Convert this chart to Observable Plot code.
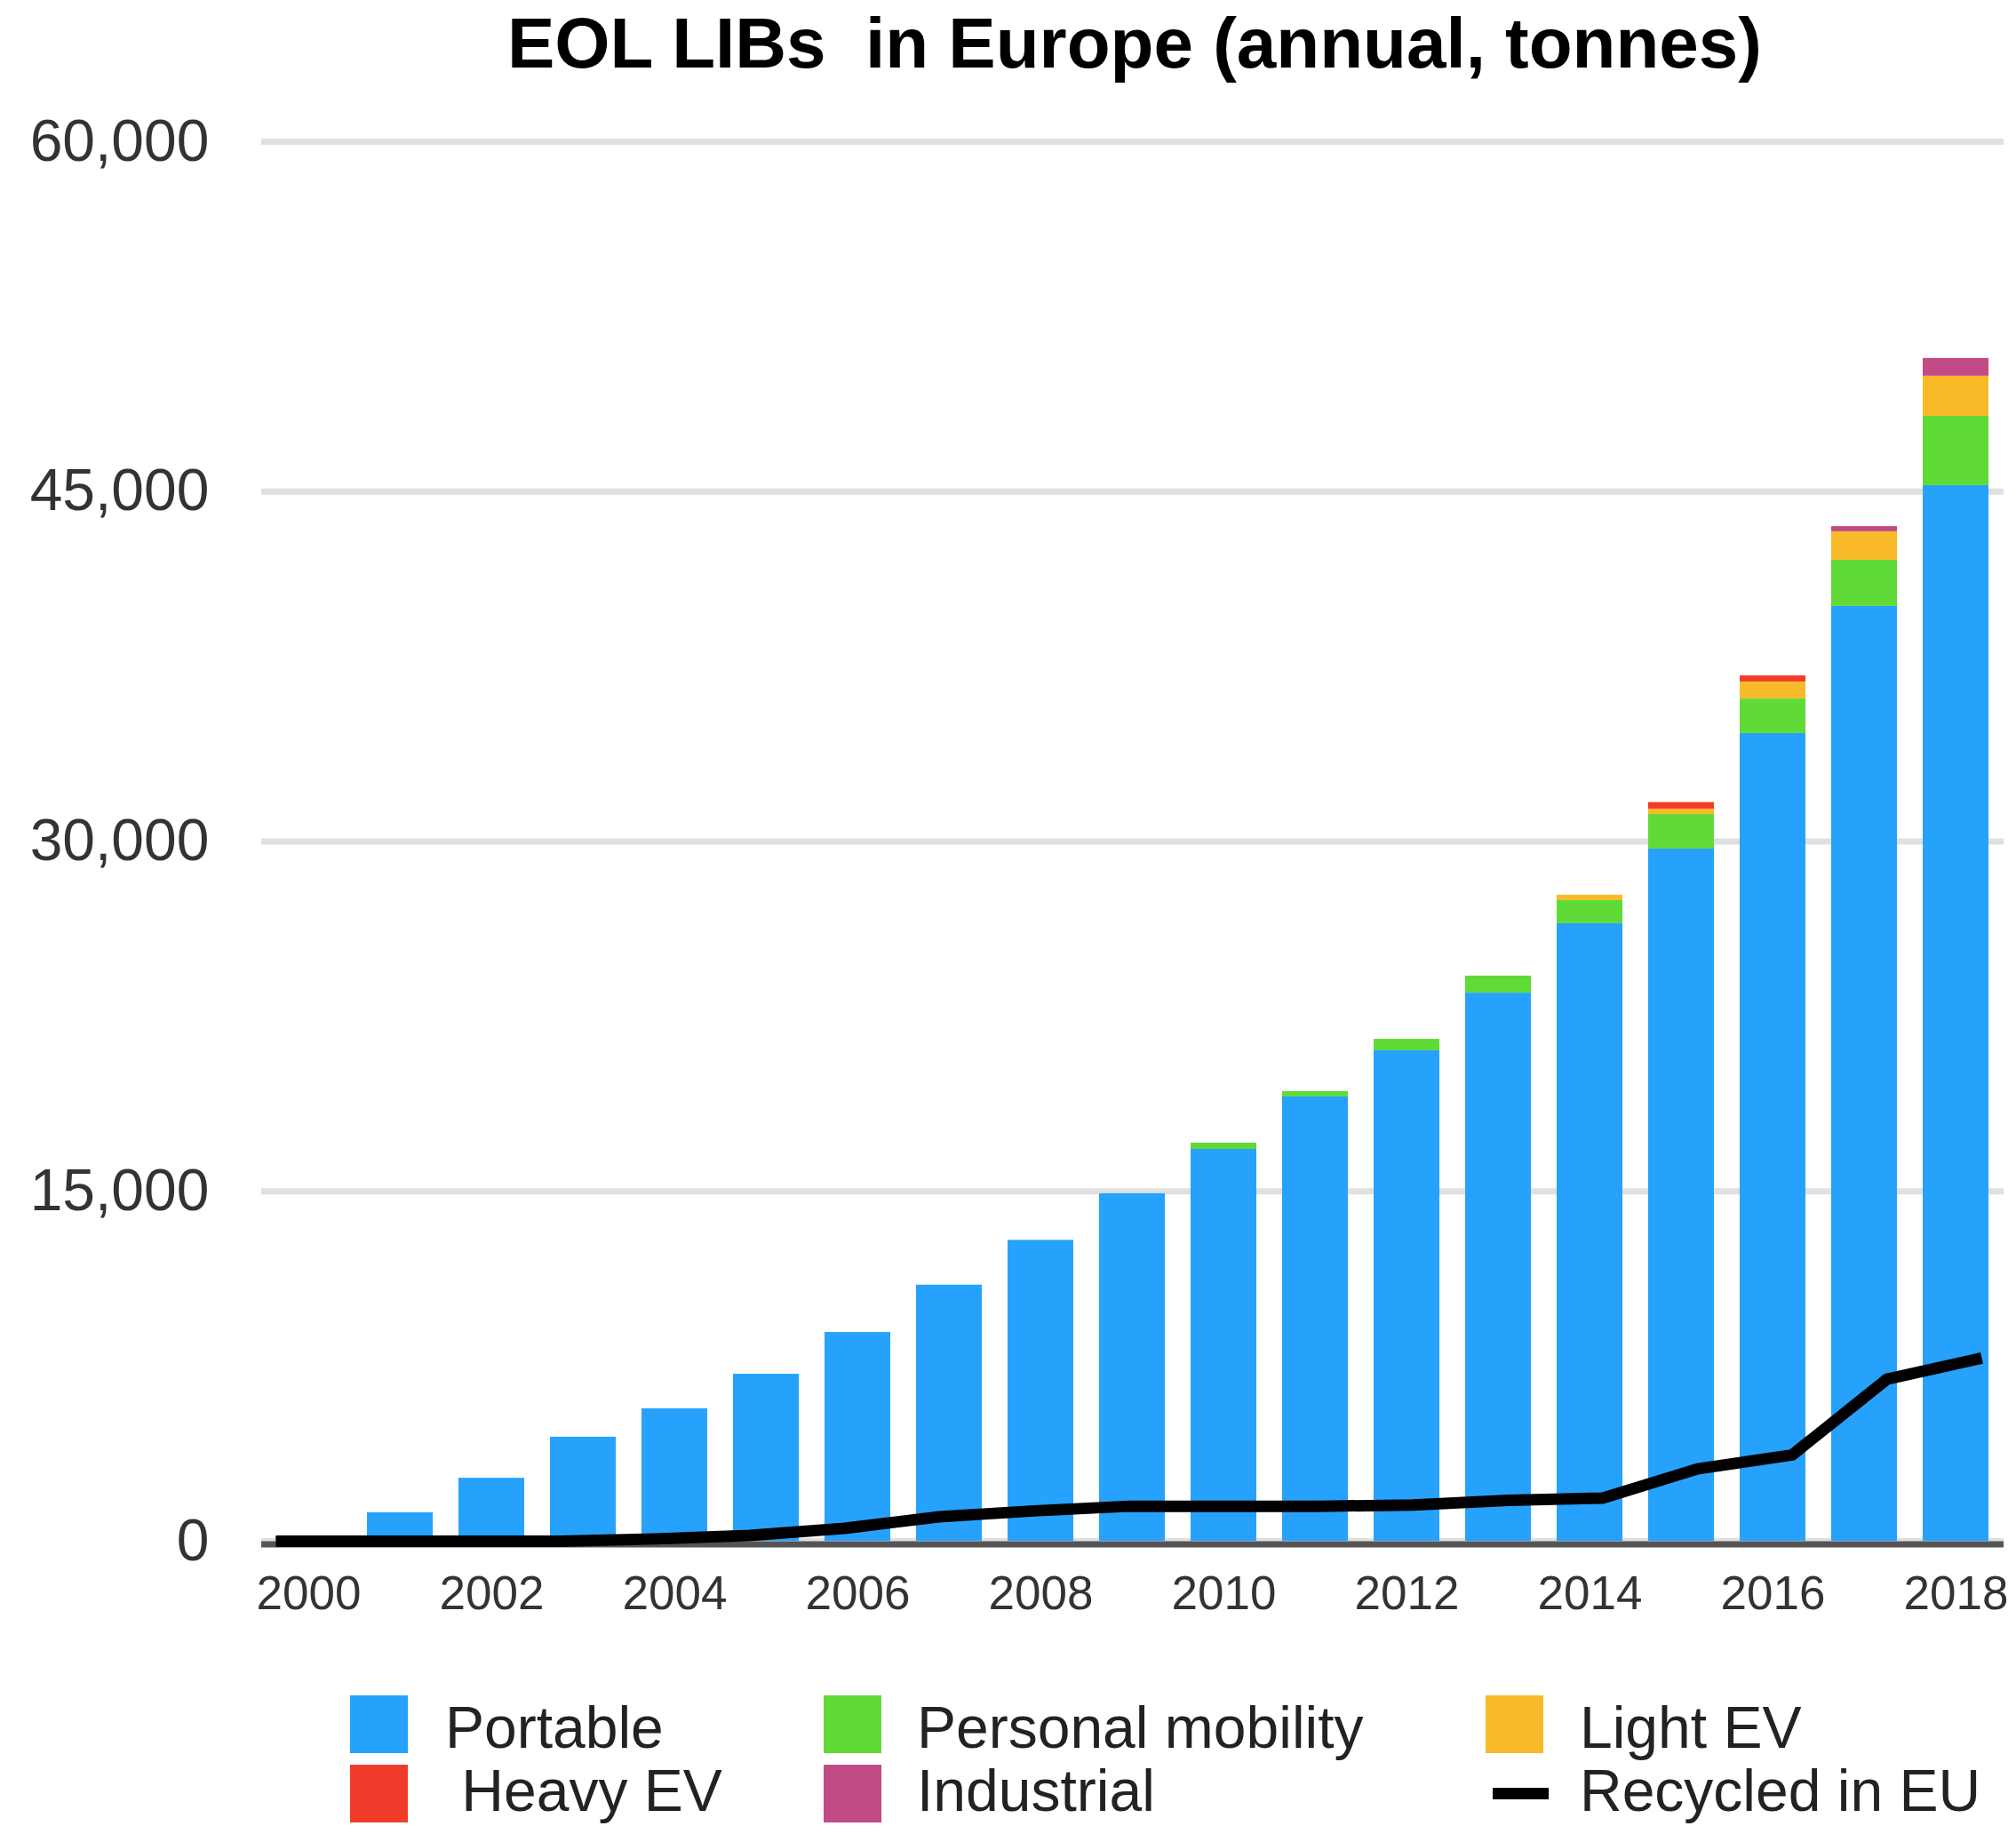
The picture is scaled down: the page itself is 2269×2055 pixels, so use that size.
<!DOCTYPE html>
<html>
<head>
<meta charset="utf-8">
<script src="https://cdn.jsdelivr.net/npm/d3@7"></script>
<script src="https://cdn.jsdelivr.net/npm/@observablehq/plot@0.6"></script>
<style>
  body { margin: 0; background: #fff; }
  #wrap { position: relative; width: 2269px; height: 2055px; overflow: hidden; background: #fff;
          font-family: "Liberation Sans", Arial, sans-serif; }
  #title { position: absolute; left: 571px; top: 9px; font-size: 80px; line-height: 80px;
           font-weight: bold; white-space: pre; color: #000; }
  .layer { position: absolute; left: 0; top: 0; }
  .lg { position: absolute; font-size: 66px; line-height: 64px; white-space: pre; color: #222; }
  .sw { position: absolute; }
</style>
</head>
<body>
<div id="wrap">
  <div id="title">EOL LIBs  in Europe (annual, tonnes)</div>
</div>
<script>
// ---------- data ----------
const years = [2000,2001,2002,2003,2004,2005,2006,2007,2008,2009,2010,2011,2012,2013,2014,2015,2016,2017,2018];
const seriesNames = ["Portable", "Personal mobility", "Light EV", "Heavy EV", "Industrial"];
const seriesColors = ["#26A2FC", "#60DA37", "#F8BA29", "#F23C2B", "#C24A85"];
const portable         = [200,1220,2700,4460,5680,7160,8950,10980,12900,14900,16800,19050,21030,23500,26480,29680,34630,40080,45260];
const personalMobility = [0,0,0,0,0,0,0,0,0,0,270,230,490,730,990,1480,1480,1980,2970];
const lightEV          = [0,0,0,0,0,0,0,0,0,0,0,0,0,0,230,230,730,1220,1720];
const heavyEV          = [0,0,0,0,0,0,0,0,0,0,0,0,0,0,0,280,260,0,0];
const industrial       = [0,0,0,0,0,0,0,0,0,0,0,0,0,0,0,0,0,220,760];
const recycledInEU     = [0,0,0,0,100,250,550,1050,1300,1500,1500,1500,1550,1750,1850,3100,3700,6950,7850];
const recycledName = "Recycled in EU";
const yTicks = [0, 15000, 30000, 45000, 60000];
const xTickYears = [2000,2002,2004,2006,2008,2010,2012,2014,2016,2018];
const legendLabels = ["Portable", "Personal mobility", "Light EV", " Heavy EV", "Industrial", "Recycled in EU"];

// ---------- build ----------
const seriesValues = [portable, personalMobility, lightEV, heavyEV, industrial];
const stacked = [];
seriesNames.forEach((s, i) => years.forEach((y, j) => stacked.push({year: y, series: s, value: seriesValues[i][j]})));
const lineData = years.map((y, i) => ({year: y, series: recycledName, value: recycledInEU[i]}));

const W = 2269, H = 1850, Y0 = 1734, YTOP = 159;
const font = "Liberation Sans, Arial, sans-serif";

const main = Plot.plot({
  width: W, height: H,
  marginLeft: 294, marginRight: 14, marginTop: YTOP, marginBottom: H - Y0,
  style: {fontFamily: font, background: "transparent"},
  x: {type: "band", domain: years, paddingInner: 0.28, paddingOuter: 0.14, align: 0.5},
  y: {domain: [0, 60000]},
  color: {domain: seriesNames, range: seriesColors},
  marks: [
    Plot.gridY({ticks: yTicks, stroke: "#e0e0e0", strokeWidth: 7, strokeOpacity: 1}),
    Plot.barY(stacked, {x: "year", y: "value", fill: "series", z: "series"}),
    Plot.ruleY([0], {stroke: "#555", strokeWidth: 7, dy: 3.5}),
    Plot.axisY({ticks: yTicks, tickFormat: d3.format(","), tickSize: 0, tickPadding: 59,
                fontSize: 66, color: "#333", label: null}),
    Plot.axisX({ticks: xTickYears, tickFormat: d => String(d), tickSize: 0, tickPadding: 39,
                fontSize: 53, color: "#333", label: null})
  ]
});
main.classList.add("layer");

const overlay = Plot.plot({
  width: W, height: H,
  marginLeft: 310, marginRight: 39, marginTop: YTOP, marginBottom: H - Y0,
  style: {fontFamily: font, background: "transparent"},
  x: {type: "linear", domain: [years[0], years[years.length - 1]], axis: null},
  y: {domain: [0, 60000], axis: null},
  marks: [
    Plot.line(lineData, {x: "year", y: "value", stroke: "#000", strokeWidth: 13,
                         strokeLinejoin: "round", strokeLinecap: "butt"})
  ]
});
overlay.classList.add("layer");

const wrap = document.getElementById("wrap");
wrap.appendChild(main);
wrap.appendChild(overlay);

// ---------- legend ----------
const swX = [394, 927, 1672], txX = [501, 1032, 1778];
const swTop = [1908, 1986], txTop = [1912, 1983];
legendLabels.forEach((lab, k) => {
  const col = k % 3, row = Math.floor(k / 3);
  const sw = document.createElement("div");
  sw.className = "sw";
  if (k < seriesNames.length) {
    sw.style.left = swX[col] + "px"; sw.style.top = swTop[row] + "px";
    sw.style.width = "65px"; sw.style.height = "65px";
    sw.style.background = seriesColors[k];
  } else {
    sw.style.left = (swX[col] + 8) + "px"; sw.style.top = (swTop[row] + 26) + "px";
    sw.style.width = "63px"; sw.style.height = "13px";
    sw.style.background = "#000";
  }
  wrap.appendChild(sw);
  const t = document.createElement("div");
  t.className = "lg";
  t.style.left = txX[col] + "px"; t.style.top = txTop[row] + "px";
  t.textContent = lab;
  wrap.appendChild(t);
});
</script>
</body>
</html>
